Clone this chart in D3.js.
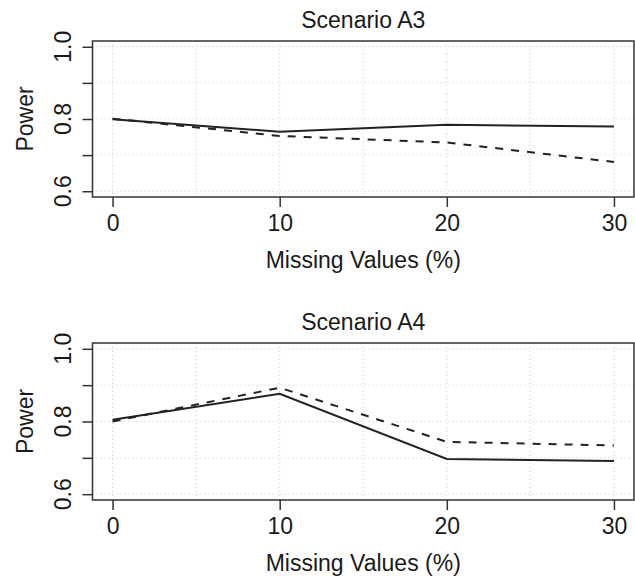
<!DOCTYPE html>
<html>
<head>
<meta charset="utf-8">
<script src="https://cdn.jsdelivr.net/npm/d3@7"></script>
<style>
  body { margin: 0; background: #fff; }
  svg text { font-family: "Liberation Sans", Arial, sans-serif; fill: #1a1a1a; }
</style>
</head>
<body>
<svg id="chart" width="635" height="576"></svg>
<script>
// values
const missingPct = [0, 10, 20, 30];
const a3Solid  = [0.799, 0.765, 0.784, 0.779];
const a3Dashed = [0.801, 0.753, 0.735, 0.681];
const a4Solid  = [0.805, 0.876, 0.697, 0.691];
const a4Dashed = [0.800, 0.893, 0.744, 0.734];
const xTicks = [0, 10, 20, 30];
const xGrid = [0, 5, 10, 15, 20, 25, 30];
const yTicks = [0.6, 0.7, 0.8, 0.9, 1.0];
const yLabelTicks = [0.6, 0.8, 1.0];
const titles = ['Scenario A3', 'Scenario A4'];

const svg = d3.select('#chart');
const fontSize = 23;

// R style: 4% padding on each side of the limits
const pad = (lo, hi) => [lo - (hi - lo) * 0.04, hi + (hi - lo) * 0.04];

const panels = [
  {title: titles[0], top: 41, bottom: 197, solid: a3Solid, dashed: a3Dashed},
  {title: titles[1], top: 343, bottom: 500, solid: a4Solid, dashed: a4Dashed}
];
const left = 92.5, right = 634;

panels.forEach(p => {
  const x = d3.scaleLinear().domain(pad(0, 30)).range([left, right]);
  const y = d3.scaleLinear().domain(pad(0.6, 1.0)).range([p.bottom, p.top]);
  const g = svg.append('g');

  // dotted grid
  g.selectAll('.vgrid').data(xGrid).join('line')
    .attr('x1', d => x(d)).attr('x2', d => x(d))
    .attr('y1', p.top).attr('y2', p.bottom)
    .attr('stroke', '#c8c8c8').attr('stroke-width', 1).attr('stroke-dasharray', '1 3');
  g.selectAll('.hgrid').data(yTicks).join('line')
    .attr('x1', left).attr('x2', right)
    .attr('y1', d => y(d)).attr('y2', d => y(d))
    .attr('stroke', '#c8c8c8').attr('stroke-width', 1).attr('stroke-dasharray', '1 3');

  // series
  const line = d3.line().x((d, i) => x(missingPct[i])).y(d => y(d));
  g.append('path').datum(p.dashed).attr('d', line)
    .attr('fill', 'none').attr('stroke', '#222').attr('stroke-width', 2)
    .attr('stroke-dasharray', '8 8');
  g.append('path').datum(p.solid).attr('d', line)
    .attr('fill', 'none').attr('stroke', '#222').attr('stroke-width', 2);

  // box
  g.append('rect').attr('x', left).attr('y', p.top)
    .attr('width', right - left).attr('height', p.bottom - p.top)
    .attr('fill', 'none').attr('stroke', '#333').attr('stroke-width', 1.5);

  // x axis
  const xa = g.append('g').attr('transform', `translate(0,${p.bottom})`)
    .call(d3.axisBottom(x).tickValues(xTicks).tickSize(10).tickPadding(8).tickFormat(d3.format('d')));
  xa.select('.domain').remove();
  xa.selectAll('line').attr('stroke', '#333').attr('stroke-width', 1.5);
  xa.selectAll('text').attr('font-size', fontSize).attr('fill', '#1a1a1a');

  // y axis
  const ya = g.append('g').attr('transform', `translate(${left},0)`)
    .call(d3.axisLeft(y).tickValues(yTicks).tickSize(10).tickFormat(''));
  ya.select('.domain').remove();
  ya.selectAll('line').attr('stroke', '#333').attr('stroke-width', 1.5);
  g.selectAll('.ylab').data(yLabelTicks).join('text')
    .attr('transform', d => `translate(71,${y(d)}) rotate(-90)`)
    .attr('text-anchor', 'middle').attr('font-size', fontSize)
    .text(d3.format('.1f'));

  // titles
  const cx = (left + right) / 2;
  g.append('text').attr('x', cx).attr('y', p.top - 13)
    .attr('text-anchor', 'middle').attr('font-size', fontSize).text(p.title);
  g.append('text').attr('x', cx).attr('y', p.bottom + 71)
    .attr('text-anchor', 'middle').attr('font-size', fontSize).text('Missing Values (%)');
  g.append('text')
    .attr('transform', `translate(33,${(p.top + p.bottom) / 2}) rotate(-90)`)
    .attr('text-anchor', 'middle').attr('font-size', fontSize).text('Power');
});
</script>
</body>
</html>
